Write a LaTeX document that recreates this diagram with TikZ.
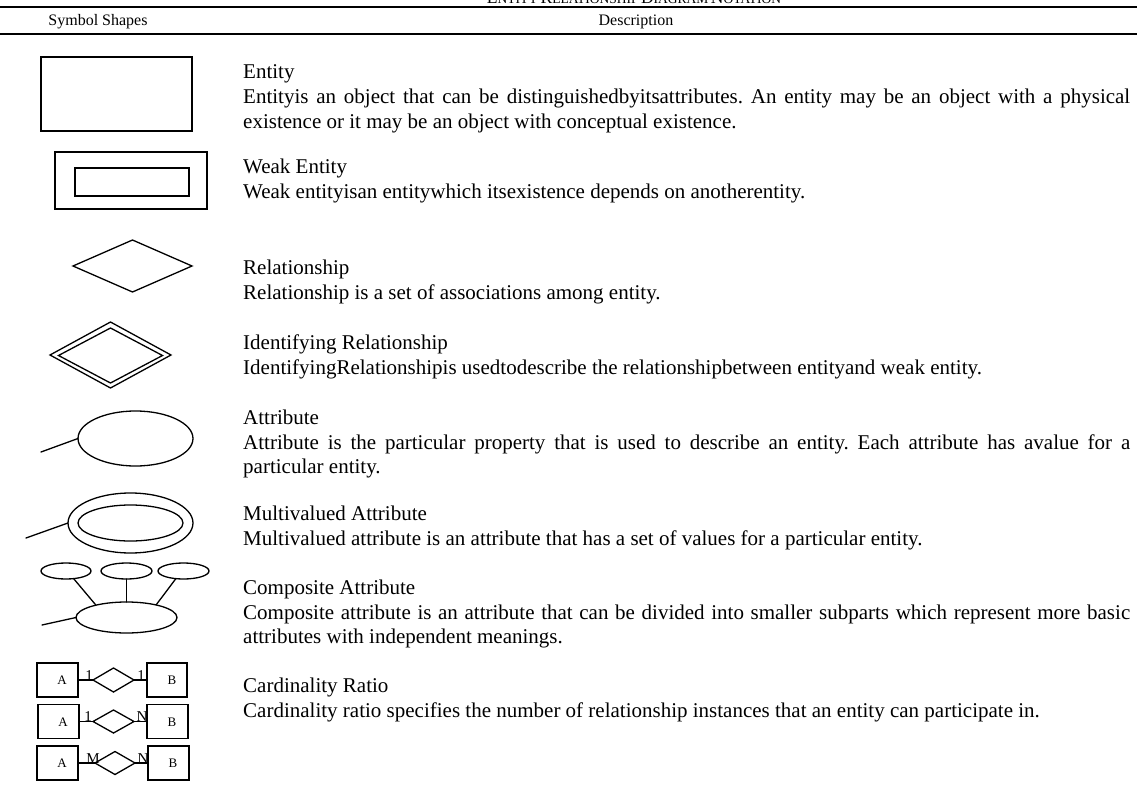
\documentclass[tikz,border=0pt]{standalone}
\usepackage{fontspec}
\setmainfont{Liberation Serif}
\usetikzlibrary{shapes.geometric}
\tikzset{
  shp/.style={draw=black, line width=1.3pt, inner sep=0pt, outer sep=0pt},
  rectbox/.style={shp, rectangle},
  diabox/.style={shp, diamond},
  ellbox/.style={shp, ellipse},
  conn/.style={line width=1.3pt, line cap=round},
  desc/.style={inner sep=0pt, anchor=base west, font=\fontsize{21}{24}\selectfont},
  hdr/.style={inner sep=0pt, anchor=base, font=\fontsize{16}{19}\selectfont},
  small/.style={inner sep=0pt, anchor=base, font=\fontsize{13}{15}\selectfont},
  card/.style={inner sep=0pt, anchor=base, font=\fontsize{15}{17}\selectfont},
  rule/.style={line width=2pt}
}
\newcommand{\jline}[1]{\makebox[887pt][s]{#1}}
\newcommand{\bigc}[1]{{\fontsize{17.5}{18}\selectfont #1}}
\newcommand{\smc}[1]{{\fontsize{13.5}{18}\selectfont #1}}
\begin{document}
\begin{tikzpicture}[x=1pt,y=-1pt]
\fill[white] (0,0) rectangle (1137,794);
\useasboundingbox (0,0) rectangle (1137,794);

% title and header
\node[inner sep=0pt, anchor=base] (title) at (634,4) {\bigc{E}\smc{NTITY} \bigc{R}\smc{ELATIONSHIP} \bigc{D}\smc{IAGRAM} \bigc{N}\smc{OTATION}};
\coordinate (r1a) at (0,7.5);
\coordinate (r1b) at (1137,7.5);
\coordinate (r2a) at (0,34);
\coordinate (r2b) at (1137,34);
\draw[rule] (r1a) -- (r1b);
\draw[rule] (r2a) -- (r2b);
\node[hdr] (hsym) at (98,26) {Symbol Shapes};
\node[hdr] (hdesc) at (636,26) {Description};

% entity
\node[rectbox, minimum width=151pt, minimum height=74pt] (ent) at (116.5,94) {};
% weak entity
\node[rectbox, minimum width=152pt, minimum height=57pt] (weako) at (131,180.5) {};
\node[rectbox, minimum width=114pt, minimum height=28pt] (weaki) at (132,182) {};
% relationship
\node[diabox, minimum width=119pt, minimum height=52pt] (rel) at (132.5,266) {};
% identifying relationship
\node[diabox, minimum width=121pt, minimum height=66pt] (idro) at (110.5,355) {};
\node[diabox, minimum width=104pt, minimum height=55pt] (idri) at (110.5,355.5) {};
% attribute
\node[ellbox, minimum width=115pt, minimum height=55pt] (attr) at (135.5,438.5) {};
\coordinate (attrL) at (41,452);
\draw[conn] (attrL) -- (attr.west);
% multivalued
\node[ellbox, minimum width=125pt, minimum height=60pt] (mvo) at (130.5,523) {};
\node[ellbox, minimum width=105pt, minimum height=36pt] (mvi) at (130.5,523) {};
\coordinate (mvL) at (26,538);
\draw[conn] (mvL) -- (mvo.west);
% composite
\node[ellbox, minimum width=50pt, minimum height=16pt] (cs1) at (66,571) {};
\node[ellbox, minimum width=51pt, minimum height=16pt] (cs2) at (126.5,571) {};
\node[ellbox, minimum width=51pt, minimum height=16pt] (cs3) at (183.5,571) {};
\node[ellbox, minimum width=101pt, minimum height=31pt] (cbig) at (126.5,617.5) {};
\draw[conn] (cs1.-45) -- (cbig.158);
\draw[conn] (cs2.south) -- (cbig.north);
\draw[conn] (cs3.-135) -- (cbig.23);
\coordinate (cL) at (42,625);
\draw[conn] (cL) -- (cbig.west);

% cardinality rows
\node[rectbox, minimum width=41pt, minimum height=34pt] (a1) at (57.5,680) {};
\node[diabox, minimum width=41pt, minimum height=24pt] (d1) at (113.5,680) {};
\node[rectbox, minimum width=40pt, minimum height=34pt] (b1) at (167,680) {};
\draw[conn] (a1.east) -- (d1.west);
\draw[conn] (d1.east) -- (b1.west);
\node[small] (a1t) at (62,684.5) {A};
\node[small] (b1t) at (172,684.5) {B};
\node[card] (c1l) at (89,680) {1};
\node[card] (c1r) at (141,680) {1};

\node[rectbox, minimum width=41pt, minimum height=34pt] (a2) at (58.5,721.5) {};
\node[diabox, minimum width=41pt, minimum height=23pt] (d2) at (113.5,721.5) {};
\node[rectbox, minimum width=41pt, minimum height=34pt] (b2) at (167.5,721.5) {};
\draw[conn] (a2.east) -- (d2.west);
\draw[conn] (d2.east) -- (b2.west);
\node[small] (a2t) at (63,726) {A};
\node[small] (b2t) at (172,726) {B};
\node[card] (c2l) at (88,721.5) {1};
\node[card] (c2r) at (142,721.5) {N};

\node[rectbox, minimum width=41pt, minimum height=34pt] (a3) at (57.5,763) {};
\node[diabox, minimum width=40pt, minimum height=23pt] (d3) at (115,763) {};
\node[rectbox, minimum width=41pt, minimum height=34pt] (b3) at (168.5,763) {};
\draw[conn] (a3.east) -- (d3.west);
\draw[conn] (d3.east) -- (b3.west);
\node[small] (a3t) at (62,767.5) {A};
\node[small] (b3t) at (173,767.5) {B};
\node[card] (c3l) at (93,763) {M};
\node[card] (c3r) at (143,763) {N};

% descriptions
\node[desc] (t1a) at (243,79) {Entity};
\node[desc] (t1b) at (243,104) {\jline{Entityis an object that can be distinguishedbyitsattributes.\  An entity may be an object with a physical}};
\node[desc] (t1c) at (243,129) {existence or it may be an object with conceptual existence.};

\node[desc] (t2a) at (243,174) {Weak Entity};
\node[desc] (t2b) at (243,199) {Weak entityisan entitywhich itsexistence depends on anotherentity.};

\node[desc] (t3a) at (243,275) {Relationship};
\node[desc] (t3b) at (243,299) {Relationship is a set of associations among entity.};

\node[desc] (t4a) at (243,349) {Identifying Relationship};
\node[desc] (t4b) at (243,374) {IdentifyingRelationshipis usedtodescribe the relationshipbetween entityand weak entity.};

\node[desc] (t5a) at (243,424) {Attribute};
\node[desc] (t5b) at (243,449) {\jline{Attribute is the particular property that is used to describe an entity.\  Each attribute has avalue for a}};
\node[desc] (t5c) at (243,473) {particular entity.};

\node[desc] (t6a) at (243,520) {Multivalued Attribute};
\node[desc] (t6b) at (243,545) {Multivalued attribute is an attribute that has a set of values for a particular entity.};

\node[desc] (t7a) at (243,594) {Composite Attribute};
\node[desc] (t7b) at (243,619) {\jline{Composite attribute is an attribute that can be divided into smaller subparts which represent more basic}};
\node[desc] (t7c) at (243,643) {attributes with independent meanings.};

\node[desc] (t8a) at (243,692) {Cardinality Ratio};
\node[desc] (t8b) at (243,717) {Cardinality ratio specifies the number of relationship instances that an entity can participate in.};
\end{tikzpicture}
\end{document}
